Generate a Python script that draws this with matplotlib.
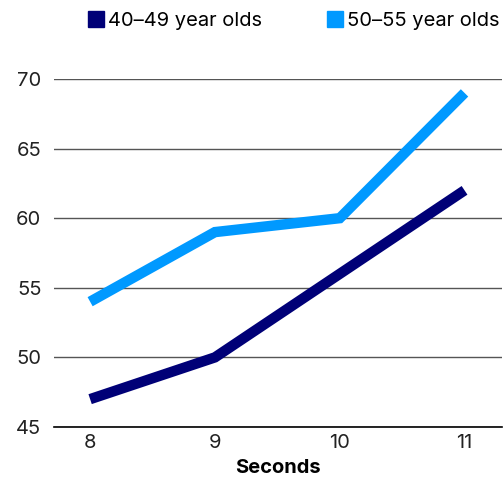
import matplotlib.pyplot as plt
from matplotlib.lines import Line2D

seconds = [8, 9, 10, 11]
age_40_49 = [47, 50, 56, 62]
age_50_55 = [54, 59, 60, 69]
series_names = ["40\u201349 year olds", "50\u201355 year olds"]
colors = ["#000077", "#0099FF"]

plt.rcParams['font.family'] = ['Inter', 'DejaVu Sans']

fig = plt.figure(figsize=(5.04, 4.79), dpi=100)
ax = fig.add_axes([0.107, 0.1086, 0.889, 0.7265])

for vals, c in zip([age_40_49, age_50_55], colors):
  ax.plot(seconds, vals, color=c, lw=7.5, solid_capstyle='butt', solid_joinstyle='miter')

ax.set_ylim(45, 70)
ax.set_xlim(7.71, 11.30)
ax.set_yticks([45, 50, 55, 60, 65, 70])
ax.set_xticks(seconds)
ax.grid(axis='y', color='#555555', lw=1)
ax.set_axisbelow(True)
for s in ['top', 'right', 'left']:
  ax.spines[s].set_visible(False)
ax.spines['bottom'].set_color('black')
ax.spines['bottom'].set_linewidth(1.2)
ax.tick_params(length=0, labelsize=14.5, colors='#222222', pad=9)
ax.tick_params(axis='x', pad=5)
ax.set_xlabel("Seconds", fontsize=14.5, fontweight='bold', labelpad=5)

handles = [Line2D([], [], marker='s', ls='', color=c, markersize=12) for c in colors]
fig.legend(handles, series_names, loc='upper left', bbox_to_anchor=(0.135, 1.012), ncol=2,
           frameon=False, fontsize=14.5, handletextpad=0.1, columnspacing=3.1, handlelength=1.0)

fig.savefig("out.png", dpi=100)
